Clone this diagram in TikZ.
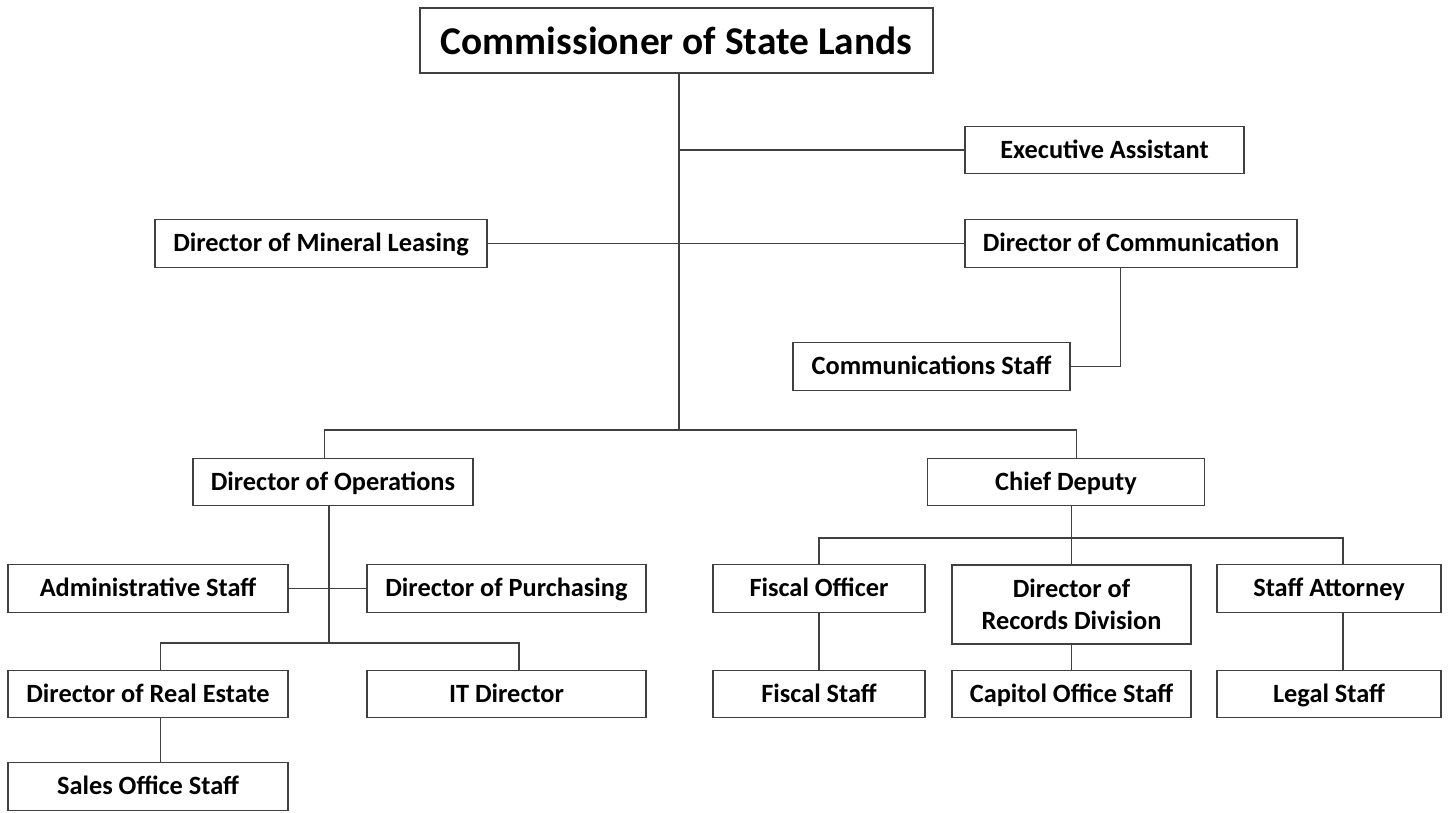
\documentclass[tikz,border=0pt]{standalone}
\usepackage{fontspec}
\setmainfont{Carlito}
\usepackage{tikz}
\usetikzlibrary{positioning}
\usetikzlibrary{calc}

\begin{document}
\begin{tikzpicture}[
                x=0.02cm, y=-0.02cm,
                box/.style={draw=black!75, line width=0.8pt, fill=white, inner sep=0pt, align=center,
                    minimum height=0.95cm, font=\bfseries\fontsize{15}{18.2}\selectfont},
                onebox/.style={box, text height=12pt, text depth=2.5pt},
                link/.style={draw=black!75, line width=0.8pt}
            ]
            \useasboundingbox (0,0) rectangle (1449,812);

            % Define nodes
            \node[box, minimum width=10.26cm, minimum height=1.3cm, font=\bfseries\fontsize{22.4}{26}\selectfont] (comm) at (676.5,40.5) {Commissioner of State Lands};
            \node[onebox, minimum width=5.58cm] (exec) at (1104.5,150) {Executive Assistant};
            \node[onebox, minimum width=6.64cm] (mineral) at (321,243.5) {Director of Mineral Leasing};
            \node[onebox, minimum width=6.64cm] (commdir) at (1131,243.5) {Director of Communication};
            \node[onebox, minimum width=5.54cm] (commstaff) at (931.5,366.5) {Communications Staff};

            \node[onebox, minimum width=5.6cm] (ops) at (333,482) {Director of Operations};
            \node[onebox, minimum width=5.54cm] (chief) at (1066,482) {Chief Deputy};

            \node[onebox, minimum width=5.6cm] (admin) at (148,588.5) {Administrative Staff};
            \node[onebox, minimum width=5.58cm] (purch) at (506.5,588.5) {Director of Purchasing};
            \node[onebox, minimum width=5.6cm] (realestate) at (148,694) {Director of Real Estate};
            \node[onebox, minimum width=5.58cm] (itdir) at (506.5,694) {IT Director};
            \node[onebox, minimum width=5.6cm] (sales) at (148,786.5) {Sales Office Staff};

            \node[onebox, minimum width=4.24cm] (fiscal) at (819,588.5) {Fiscal Officer};
            \node[box, minimum width=4.78cm, minimum height=1.58cm] (records) at (1071.5,604.5) {Director of\\Records Division};
            \node[onebox, minimum width=4.48cm] (attorney) at (1329,588.5) {Staff Attorney};
            \node[onebox, minimum width=4.24cm] (fiscalstaff) at (819,694) {Fiscal Staff};
            \node[onebox, minimum width=4.78cm] (capitol) at (1071.5,694) {Capitol Office Staff};
            \node[onebox, minimum width=4.48cm] (legal) at (1329,694) {Legal Staff};

            % Junction points
            \coordinate (trunk) at (679,430);
            \coordinate (opsjoin) at (329,643);
            \coordinate (cdjoin) at (1071.5,538);

            % Connectors from the commissioner
            \draw[link] (comm.south -| trunk) -- (trunk);
            \draw[link] (exec.west) -- (exec.west -| trunk);
            \draw[link] (mineral.east) -- (commdir.west);
            \draw[link] ([xshift=-6]commdir.south) |- (commstaff.east);
            \draw[link] ([xshift=-5]ops.north) |- (trunk) -| ([xshift=6]chief.north);

            % Director of Operations branch
            \draw[link] (ops.south -| opsjoin) -- (opsjoin);
            \draw[link] (admin.east) -- (purch.west);
            \draw[link] ([xshift=7]realestate.north) |- (opsjoin) -| ([xshift=7]itdir.north);
            \draw[link] ([xshift=7]realestate.south) -- ([xshift=7]sales.north);

            % Chief Deputy branch
            \draw[link] (chief.south -| cdjoin) -- (cdjoin);
            \draw[link] (fiscal.north) |- (cdjoin) -| ([xshift=8]attorney.north);
            \draw[link] (cdjoin) -- (records.north);
            \draw[link] (fiscal.south) -- (fiscalstaff.north);
            \draw[link] (records.south) -- (capitol.north);
            \draw[link] ([xshift=8]attorney.south) -- ([xshift=8]legal.north);

        \end{tikzpicture}
\end{document}
